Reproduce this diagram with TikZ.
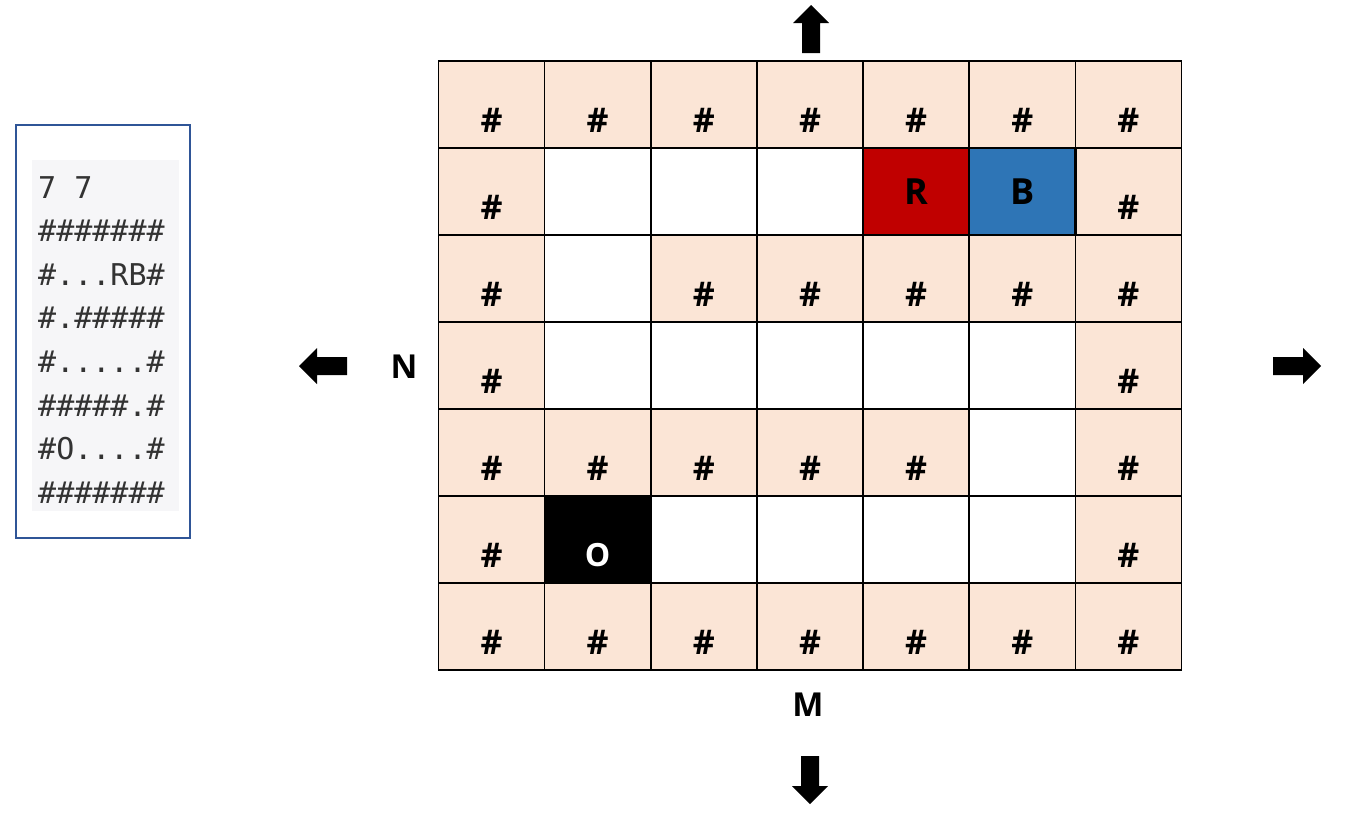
\documentclass[tikz,border=0pt]{standalone}
\usepackage{fontspec}
\setmainfont{Open Sans}
\newfontfamily\monof{DejaVu Sans Mono}
\definecolor{wall}{HTML}{FBE5D6}
\definecolor{redc}{HTML}{C00000}
\definecolor{bluec}{HTML}{2E75B6}
\definecolor{boxedge}{HTML}{2F5597}
\definecolor{codebg}{HTML}{F6F6F8}
\definecolor{codetxt}{HTML}{333333}
\tikzset{
  cell/.style={draw=black, line width=1.5pt, minimum width=106.14pt, minimum height=87pt, inner sep=0pt, anchor=center},
  wallcell/.style={cell, fill=wall},
  freecell/.style={cell, fill=white},
  hashlbl/.style={font=\fontsize{34}{40}\selectfont\bfseries, text=black, inner sep=0pt},
  biglbl/.style={font=\fontsize{36}{42}\selectfont\bfseries, inner sep=0pt},
  holelbl/.style={font=\fontsize{32}{38}\selectfont\bfseries, inner sep=0pt},
  dirlbl/.style={font=\fontsize{33}{39}\selectfont\bfseries, inner sep=0pt},
  codeline/.style={font=\monof\fontsize{30}{36}\selectfont, text=codetxt, inner sep=0pt, anchor=base west},
  pics/blockarrow/.style={code={\fill[black] (0,-9)--(30,-9)--(30,-18)--(48,0)--(30,18)--(30,9)--(0,9)--cycle;}}
}
\begin{document}
\begin{tikzpicture}[x=1pt,y=-1pt]
\useasboundingbox (0,0) rectangle (1359,814);
% left input box
\node[draw=boxedge, line width=1.5pt, minimum width=174pt, minimum height=413pt, inner sep=0pt, anchor=north west] (inbox) at (15,124) {};
\node[fill=codebg, minimum width=147pt, minimum height=351pt, inner sep=0pt, anchor=north west] (codebox) at (32,160) {};
\node[codeline] (t1) at (38,198) {7 7};
\node[codeline] (t2) at (38,241.6) {\#\#\#\#\#\#\#};
\node[codeline] (t3) at (38,285.2) {\#...RB\#};
\node[codeline] (t4) at (38,328.8) {\#.\#\#\#\#\#};
\node[codeline] (t5) at (38,372.4) {\#.....\#};
\node[codeline] (t6) at (38,416) {\#\#\#\#\#.\#};
\node[codeline] (t7) at (38,459.6) {\#O....\#};
\node[codeline] (t8) at (38,503.2) {\#\#\#\#\#\#\#};
% free cells
\foreach \r/\c in {1/1,1/2,1/3,2/1,3/1,3/2,3/3,3/4,3/5,4/5,5/2,5/3,5/4,5/5}{
  \node[freecell] (c\r\c) at ({438.5+(\c+0.5)*106.14},{61+(\r+0.5)*87}) {};
}
% wall cells
\foreach \r/\c in {0/0,0/1,0/2,0/3,0/4,0/5,0/6,
                   1/0,1/6,
                   2/0,2/2,2/3,2/4,2/5,2/6,
                   3/0,3/6,
                   4/0,4/1,4/2,4/3,4/4,4/6,
                   5/0,5/6,
                   6/0,6/1,6/2,6/3,6/4,6/5,6/6}{
  \node[wallcell] (c\r\c) at ({438.5+(\c+0.5)*106.14},{61+(\r+0.5)*87}) {};
  \node[hashlbl] (h\r\c) at ([yshift=-15.5pt]c\r\c.center) {\#};
}
% hole
\node[cell, fill=black] (c51) at ({438.5+1.5*106.14},{61+5.5*87}) {};
\node[holelbl, text=white] (lo) at ([yshift=-16pt]c51.center) {O};
% red and blue marbles
\node[cell, fill=redc, line width=2.5pt] (c14) at ({438.5+4.5*106.14},{61+1.5*87}) {};
\node[cell, fill=bluec, line width=2.5pt] (c15) at ({438.5+5.5*106.14},{61+1.5*87}) {};
\node[biglbl, text=black] (lr) at (c14.center) {R};
\node[biglbl, text=black] (lb) at (c15.center) {B};
% dimension labels
\node[dirlbl] (ln) at (404,367) {N};
\node[dirlbl] (lm) at (808,705) {M};
% direction arrows
\pic[rotate=90] at (811,53) {blockarrow};
\pic[rotate=-90] at (810,756) {blockarrow};
\pic[rotate=180] at (347,366) {blockarrow};
\pic at (1273,366) {blockarrow};
\end{tikzpicture}
\end{document}
